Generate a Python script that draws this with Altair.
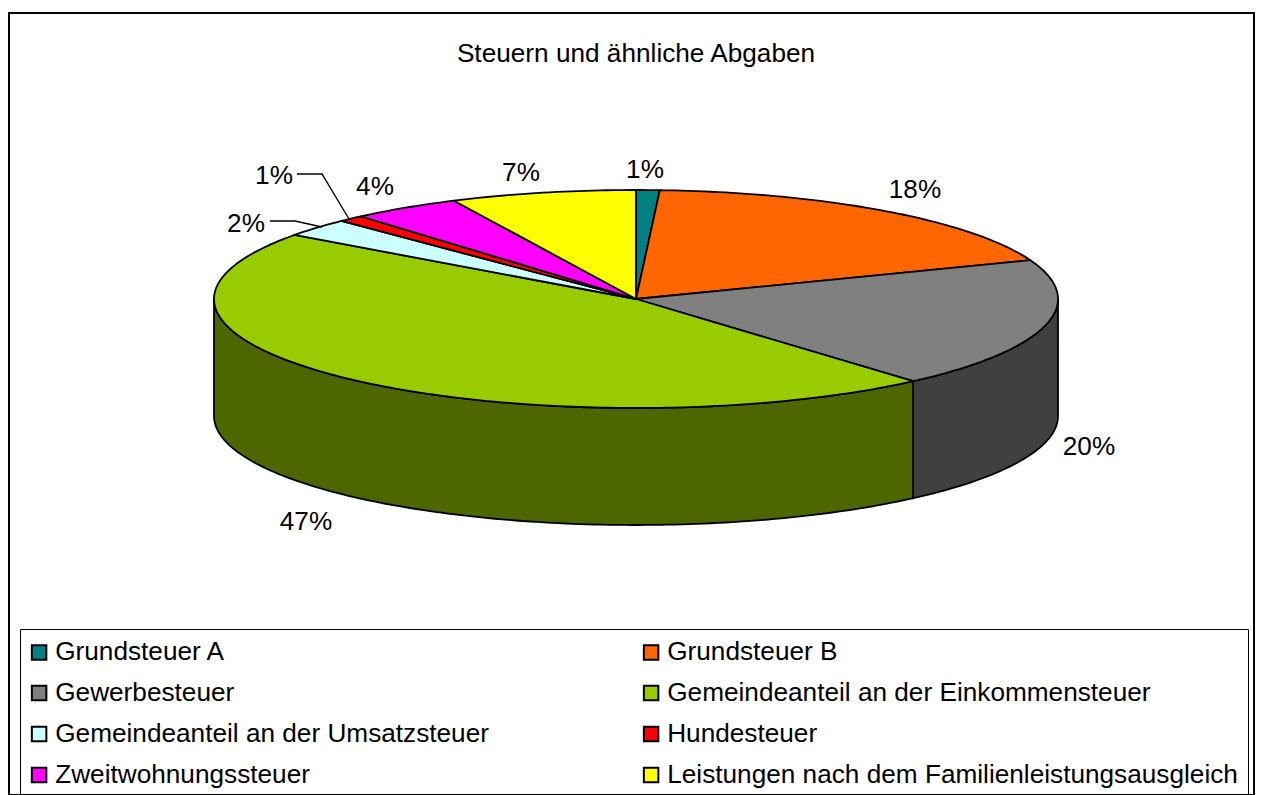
import math
import altair as alt
import pandas as pd

# --- chart values -------------------------------------------------------
names = ["Grundsteuer A", "Grundsteuer B", "Gewerbesteuer",
         "Gemeindeanteil an der Einkommensteuer",
         "Gemeindeanteil an der Umsatzsteuer", "Hundesteuer",
         "Zweitwohnungssteuer",
         "Leistungen nach dem Familienleistungsausgleich"]
shares = [0.9, 18.3, 19.4, 46.4, 2.7, 1.0, 4.2, 7.1]
labels = ["1%", "18%", "20%", "47%", "2%", "1%", "4%", "7%"]
colors = ["#008080", "#FF6600", "#808080", "#99CC00",
          "#CCFFFF", "#FF0000", "#FF00FF", "#FFFF00"]
wall_colors = ["#004040", "#803300", "#404040", "#4D6600",
               "#668080", "#800000", "#800080", "#808000"]

# --- layout --------------------------------------------------------------
CX, CY, RX, RY, DEPTH = 636, 299, 422, 109, 117
label_x = [645, 915, 1089, 306, 246, 274, 375, 521]
label_y = [170, 190, 447, 522, 224, 176, 187, 173]
leader_x = [[270, 295, 322], [297, 322, 349]]
leader_y = [[221, 221, 227], [174, 174, 219]]
FONT = "Liberation Sans"
FS = 26.2


def pt(deg, drop=0):
    a = math.radians(deg)
    return CX + RX * math.sin(a), CY - RY * math.cos(a) + drop


tops, walls = [], []
start = 0.0
for name, share, wall in zip(names, shares, wall_colors):
    end = start + share * 3.6
    n = max(2, int(end - start) + 1)
    arc = [start + (end - start) * i / n for i in range(n + 1)]
    path = [(CX, CY)] + [pt(d) for d in arc] + [(CX, CY)]
    for i, (x, y) in enumerate(path):
        tops.append(dict(name=name, seq=i, x=x, y=y))
    lo, hi = max(start, 90), min(end, 270)
    if hi > lo:
        m = max(2, int(hi - lo) + 1)
        arc = [lo + (hi - lo) * i / m for i in range(m + 1)]
        path = [pt(d) for d in arc] + [pt(d, DEPTH) for d in reversed(arc)]
        path.append(path[0])
        for i, (x, y) in enumerate(path):
            walls.append(dict(wall=wall, seq=i, x=x, y=y))
    start = end

xs = alt.Scale(domain=[9, 1254], nice=False, zero=False)
ys = alt.Scale(domain=[795, 13], nice=False, zero=False)
X = alt.X("x:Q", scale=xs, axis=None)
Y = alt.Y("y:Q", scale=ys, axis=None)

wall_layer = alt.Chart(pd.DataFrame(walls)).mark_line(
    stroke="black", strokeWidth=1.8, interpolate="linear"
).encode(x=X, y=Y, order="seq:Q", fill=alt.Fill("wall:N", scale=None, legend=None))

top_layer = alt.Chart(pd.DataFrame(tops)).mark_line(
    stroke="black", strokeWidth=1.8, strokeJoin="round"
).encode(
    x=X, y=Y, order="seq:Q",
    fill=alt.Fill(
        "name:N",
        scale=alt.Scale(domain=names, range=colors),
        legend=alt.Legend(
            title=None, orient="none", legendX=11, legendY=616, columns=2,
            direction="horizontal",
            symbolType="square", symbolSize=210, symbolStrokeColor="black",
            symbolStrokeWidth=2, symbolOffset=-4, labelFont=FONT, labelFontSize=FS,
            labelColor="black", labelLimit=700, labelOffset=3,
            rowPadding=14, columnPadding=150, padding=10,
            strokeColor="black", gridAlign="each",
        ),
    ),
)

leaders = pd.DataFrame(
    [dict(k=k, seq=i, x=x, y=y)
     for k, (lx, ly) in enumerate(zip(leader_x, leader_y))
     for i, (x, y) in enumerate(zip(lx, ly))]
)
leader_layer = alt.Chart(leaders).mark_line(stroke="black", strokeWidth=1.4).encode(
    x=X, y=Y, order="seq:Q", detail="k:N"
)

text_layer = alt.Chart(
    pd.DataFrame(dict(x=label_x, y=label_y, t=labels))
).mark_text(font=FONT, fontSize=FS, color="black", align="center", baseline="middle").encode(
    x=X, y=Y, text="t:N"
)

chart = (
    alt.layer(wall_layer, top_layer, leader_layer, text_layer)
    .resolve_scale(fill="independent")
    .properties(
        width=1245, height=782,
        padding={"left": 1, "top": 5, "right": 1, "bottom": 0},
        autosize=alt.AutoSizeParams(type="none"),
        view=alt.ViewBackground(stroke="black", strokeWidth=2),
        title=alt.TitleParams(
            "Steuern und ähnliche Abgaben", font=FONT, fontSize=FS,
            fontWeight="normal", color="black", anchor="middle", offset=-54, dx=4.5,
        ),
    )
    .configure(background="white")
)
chart.save("out.html", embed_options={"renderer": "svg", "actions": False})
